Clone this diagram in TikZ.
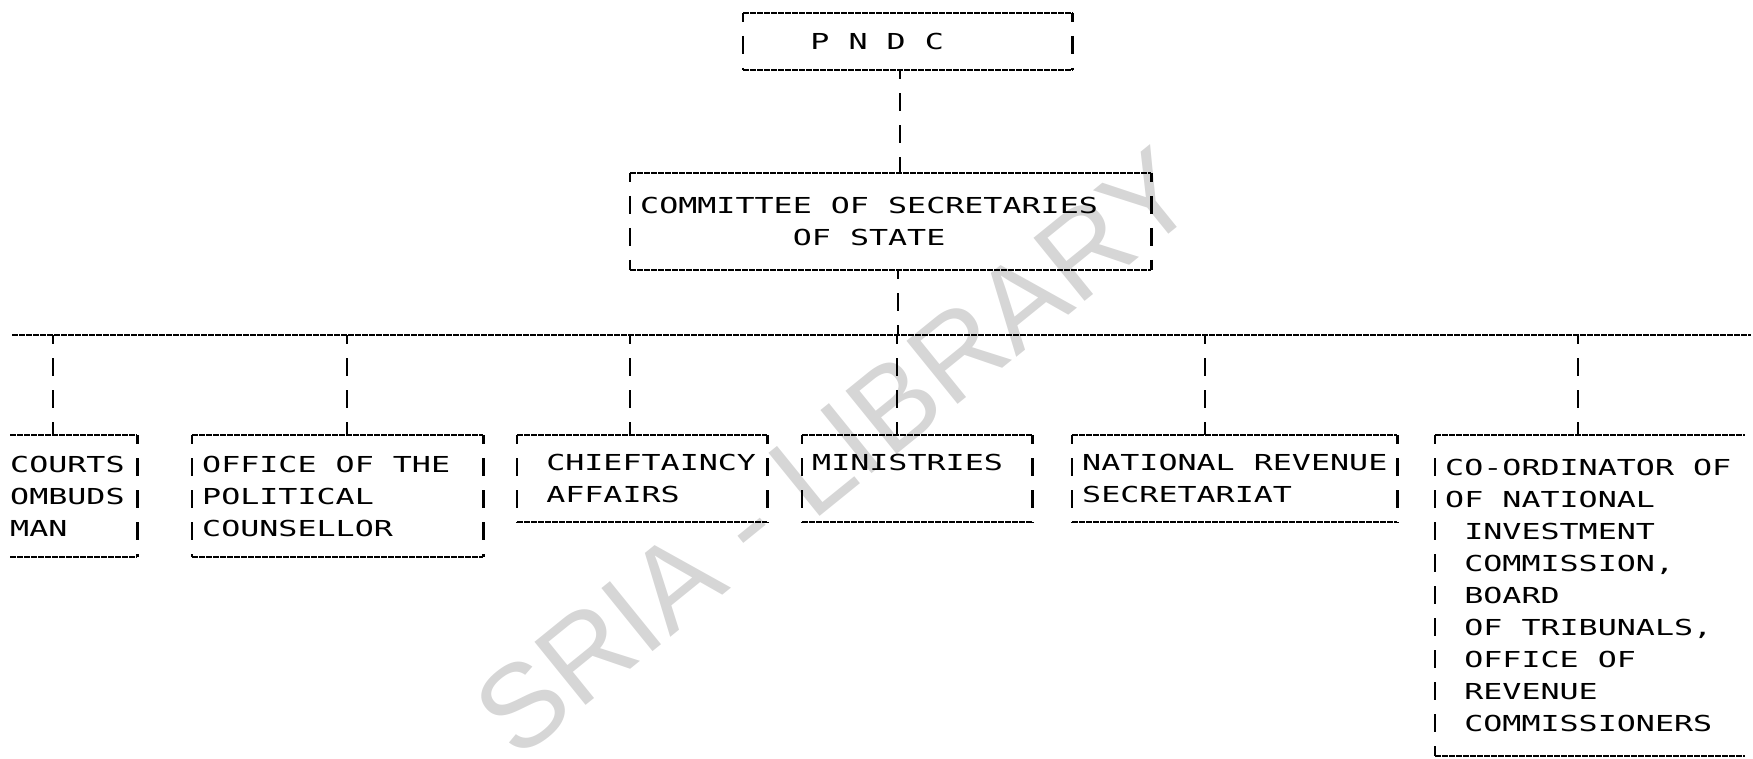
\documentclass[tikz,border=0pt]{standalone}
\usepackage{fontspec}
\newfontfamily\dm[FakeStretch=1.44]{DejaVu Sans Mono}
\newfontfamily\wmfont{Liberation Sans}
\newlength\cw
\newcommand\sk[1]{\hspace*{#1\cw}}
\newcommand\dmfont{\dm\fontsize{22pt}{32pt}\selectfont
  \fontdimen2\font=\cw\fontdimen3\font=0pt\fontdimen4\font=0pt\relax
  \hyphenpenalty=10000\exhyphenpenalty=10000\relax}
\newcommand\fullbox[1]{%
  \draw[hline] (#1.north west) -- (#1.north east) (#1.south west) -- (#1.south east);
  \draw[vline] (#1.north west) -- (#1.south west) (#1.north east) -- (#1.south east);}
\tikzset{
  hline/.style={line width=2pt, dash pattern=on 6pt off 1pt},
  vline/.style={line width=2.4pt, dash pattern=on 18pt off 14pt, dash phase=9pt},
  orgbox/.style={draw=none, inner ysep=0pt, inner xsep=10pt, align=left, anchor=north west,
    font=\dmfont},
  wmark/.style={text=black!16, inner sep=0pt, font=\wmfont\fontsize{118pt}{118pt}\selectfont}
}
\begin{document}
\settowidth{\cw}{\dm\fontsize{22pt}{32pt}\selectfont X}
\begin{tikzpicture}[x=1pt,y=-1pt]
\useasboundingbox (0,0) rectangle (1753,759);
% watermark
\begin{scope}
\clip (0,0) rectangle (1753,759);
\node[wmark, rotate=39] (wm) at (835,452) {SRIA - LIBRARY};
\end{scope}
% boxes
\node[orgbox, text width=309pt, minimum height=57pt] (pndc) at (743,13) {\sk{3}P\sk{1}N\sk{1}D\sk{1}C};
\node[orgbox, text width=501pt, minimum height=97pt] (cos) at (630,173)
  {\mbox{COMMITTEE\sk{1}OF\sk{1}SECRETARIES}\\\sk{8}OF\sk{1}STATE};
\node[orgbox, inner xsep=0pt, text width=127pt, minimum height=122pt] (courts) at (10,435)
  {COURTS\\OMBUDS\\MAN};
\node[orgbox, text width=271pt, minimum height=122pt] (office) at (192,435)
  {\mbox{OFFICE\sk{1}OF\sk{1}THE}\\POLITICAL\\COUNSELLOR};
\node[orgbox, text width=230pt, minimum height=87pt] (chief) at (517,435)
  {\mbox{\sk{1}CHIEFTAINCY}\\\sk{1}AFFAIRS};
\node[orgbox, text width=210pt, minimum height=87pt] (min) at (802,435)
  {MINISTRIES\\\mbox{}};
\node[orgbox, text width=305pt, minimum height=87pt] (natrev) at (1072,435)
  {\mbox{NATIONAL\sk{1}REVENUE}\\SECRETARIAT};
\node[orgbox, text width=290pt, minimum height=321pt] (coord) at (1435,435)
  {\mbox{CO-ORDINATOR\sk{1}OF}\\\mbox{OF\sk{1}NATIONAL}\\\sk{1}INVESTMENT\\\sk{1}COMMISSION,\\\sk{1}BOARD\\\mbox{\sk{1}OF\sk{1}TRIBUNALS,}\\\mbox{\sk{1}OFFICE\sk{1}OF}\\\sk{1}REVENUE\\\mbox{\sk{1}COMMISSIONERS}};
% borders
\fullbox{pndc}
\fullbox{cos}
\fullbox{office}
\fullbox{chief}
\fullbox{min}
\fullbox{natrev}
\draw[hline] (courts.north west) -- (courts.north east) (courts.south west) -- (courts.south east);
\draw[vline] (courts.north east) -- (courts.south east);
\draw[hline] (coord.north west) -- (coord.north east) (coord.south west) -- (coord.south east);
\draw[vline] (coord.north west) -- (coord.south west);
% connectors
\coordinate (pc) at (900,0);
\draw[vline] (pc |- pndc.south) -- (pc |- cos.north);
\coordinate (busL) at (12,335);
\coordinate (busR) at (1751,335);
\draw[hline] (busL) -- (busR);
\coordinate (jc) at (898,335);
\draw[vline] (jc |- cos.south) -- (jc);
\coordinate (j1) at (53,335);
\coordinate (j2) at (347,335);
\coordinate (j3) at (630,335);
\coordinate (j4) at (897,335);
\coordinate (j5) at (1205,335);
\coordinate (j6) at (1578,335);
\draw[vline] (j1) -- (j1 |- courts.north);
\draw[vline] (j2) -- (j2 |- office.north);
\draw[vline] (j3) -- (j3 |- chief.north);
\draw[vline] (j4) -- (j4 |- min.north);
\draw[vline] (j5) -- (j5 |- natrev.north);
\draw[vline] (j6) -- (j6 |- coord.north);
\end{tikzpicture}
\end{document}
